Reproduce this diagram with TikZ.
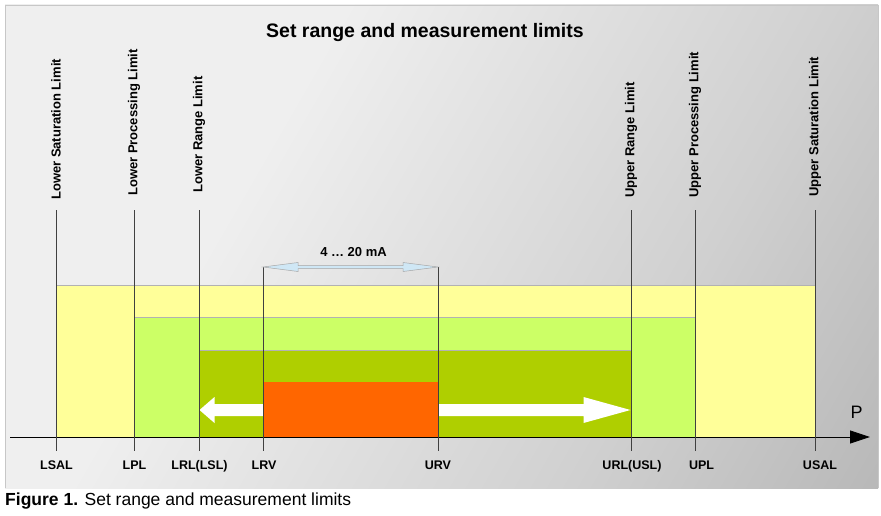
\documentclass[tikz,border=0pt]{standalone}
\usepackage{fontspec}
\setmainfont{Liberation Sans}
\usetikzlibrary{arrows.meta}
\definecolor{panellight}{HTML}{EFEFEF}
\definecolor{panelmid}{HTML}{D0D0D0}
\definecolor{paneldark}{HTML}{A4A4A4}
\definecolor{satyellow}{HTML}{FFFF99}
\definecolor{proclime}{HTML}{CCFF66}
\definecolor{rangegreen}{HTML}{AFCF00}
\definecolor{setorange}{HTML}{FF6600}
\definecolor{mablue}{HTML}{CFE7F5}
\pgfdeclarehorizontalshading{panelshade}{100bp}{color(0bp)=(panellight); color(36bp)=(panellight); color(66bp)=(panelmid); color(100bp)=(paneldark)}

\begin{document}
\begin{tikzpicture}[x=1pt,y=-1pt,
    vlabel/.style={rotate=90,anchor=west,inner sep=0pt,font=\fontsize{13}{15}\selectfont\bfseries},
    hlabel/.style={anchor=base,inner sep=0pt,font=\fontsize{12.5}{15}\selectfont\bfseries},
    limit/.style={draw=black!75,line width=0.7pt},
    band/.style={draw=black!30,line width=0.6pt},
    mabar/.style={fill=mablue,draw=black!35,line width=0.5pt}]
  \useasboundingbox (0,0) rectangle (881,516);
  % grey panel
  \shade[shading=panelshade,shading angle=-30] (5,5) rectangle (878,488);
  \draw[black!22,line width=0.8pt] (5,488) -- (5,5) -- (878,5) -- (878,488);
  \node[anchor=base,font=\fontsize{19.5}{22}\selectfont\bfseries] (title) at (425,38) {Set range and measurement limits};
  % bands
  \filldraw[band,fill=satyellow] (56,285) rectangle (815,437);
  \filldraw[band,fill=proclime] (134,317) rectangle (695,437);
  \filldraw[band,fill=rangegreen] (199,350) rectangle (631,437);
  \fill[setorange] (263,382) rectangle (438,437);
  % white arrows
  \coordinate (lrv-mid) at (263,410);
  \coordinate (lrl-mid) at (199.5,410);
  \coordinate (urv-mid) at (438,410);
  \coordinate (url-mid) at (630.5,410);
  \fill[white] ([shift={(0,-6)}]lrv-mid) -- ([shift={(15,-6)}]lrl-mid) -- ([shift={(15,-13)}]lrl-mid)
    -- (lrl-mid) -- ([shift={(15,13)}]lrl-mid) -- ([shift={(15,6)}]lrl-mid) -- ([shift={(0,6)}]lrv-mid) -- cycle;
  \fill[white] ([shift={(0,-6)}]urv-mid) -- ([shift={(-47,-6)}]url-mid) -- ([shift={(-47,-13)}]url-mid)
    -- (url-mid) -- ([shift={(-47,13)}]url-mid) -- ([shift={(-47,6)}]url-mid) -- ([shift={(0,6)}]urv-mid) -- cycle;
  % axis
  \coordinate (axis-start) at (10,437);
  \coordinate (axis-end) at (870,437);
  \draw[line width=0.8pt,-{Triangle[length=20pt,width=13pt]}] (axis-start) -- (axis-end);
  \node[anchor=base,font=\fontsize{18}{20}\selectfont] (p) at (856.5,418) {P};
  % limits
  \foreach \x/\n/\s/\sx/\ly/\l in {56/lsal/LSAL/56.5/200/Lower Saturation Limit,
      134/lpl/LPL/134.5/196/Lower Processing Limit,
      199/lrl/LRL(LSL)/199.5/193/Lower Range Limit,
      631/url/URL(USL)/632/198/Upper Range Limit,
      695/upl/UPL/701.5/198/Upper Processing Limit,
      815/usal/USAL/820/197/Upper Saturation Limit}{
    \coordinate (\n-top) at (\x,210);
    \coordinate (\n-bot) at (\x,451);
    \draw[limit] (\n-top) -- (\n-bot);
    \node[vlabel] (\n-name) at (\x,\ly) {\l};
    \node[hlabel] (\n-abbr) at (\sx,469) {\s};
  }
  % set range 4...20 mA
  \coordinate (lrv-top) at (263,267);
  \coordinate (lrv-bot) at (263,451);
  \coordinate (urv-top) at (438,267);
  \coordinate (urv-bot) at (438,451);
  \draw[limit] (lrv-top) -- (lrv-bot);
  \draw[limit] (urv-top) -- (urv-bot);
  \node[hlabel] (lrv-abbr) at (264,469) {LRV};
  \node[hlabel] (urv-abbr) at (438,469) {URV};
  \draw[mabar] (lrv-top) -- ++(35,-4.5) -- ++(0,3) -- ([shift={(-35,-1.5)}]urv-top) -- ++(0,-3)
    -- (urv-top) -- ++(-35,4.5) -- ++(0,-3) -- ([shift={(35,1.5)}]lrv-top) -- ++(0,3) -- cycle;
  \node[hlabel,font=\fontsize{13}{15}\selectfont\bfseries] (ma) at (353.5,256) {4 … 20 mA};
  % caption
  \node[anchor=base west,inner sep=0pt,font=\fontsize{17.5}{20}\selectfont] (caption) at (5,505) {\textbf{Figure 1.} Set range and measurement limits};
\end{tikzpicture}
\end{document}
